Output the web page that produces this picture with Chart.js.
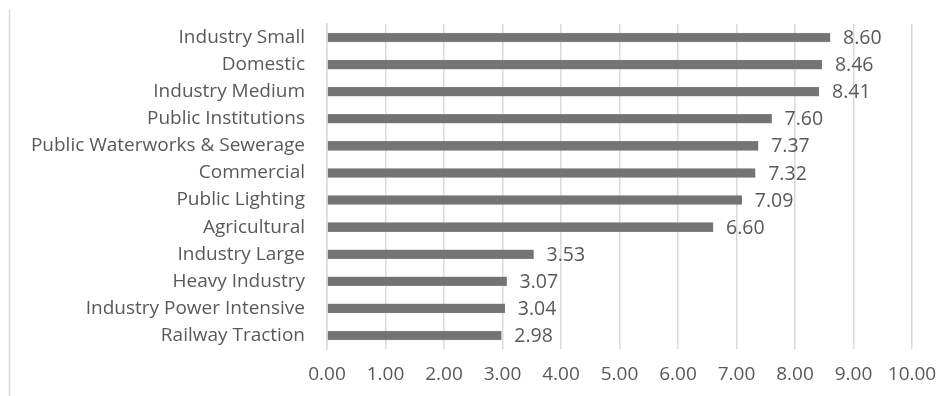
<!DOCTYPE html>
<html>
<head>
<meta charset="utf-8">
<script src="https://cdn.jsdelivr.net/npm/chart.js@4"></script>
<style>
  html, body { margin: 0; padding: 0; background: #fff; }
  #wrap { width: 952px; height: 396px; position: relative; }
</style>
</head>
<body>
<div id="wrap"><canvas id="c" width="952" height="396"></canvas></div>
<script>
const categories = [
  "Industry Small", "Domestic", "Industry Medium", "Public Institutions",
  "Public Waterworks & Sewerage", "Commercial", "Public Lighting", "Agricultural",
  "Industry Large", "Heavy Industry", "Industry Power Intensive", "Railway Traction"
];
const values = [8.60, 8.46, 8.41, 7.60, 7.37, 7.32, 7.09, 6.60, 3.53, 3.07, 3.04, 2.98];
const xTicks = [0, 1, 2, 3, 4, 5, 6, 7, 8, 9, 10];

const FONT = "'Open Sans', 'DejaVu Sans', sans-serif";
const TEXT = "#595959";

// value labels to the right of each bar, plus the thin frame line on the left
const valueLabels = {
  id: "valueLabels",
  afterDatasetsDraw(chart) {
    const ctx = chart.ctx;
    const meta = chart.getDatasetMeta(0);
    ctx.save();
    ctx.font = "19.5px " + FONT;
    ctx.fillStyle = TEXT;
    ctx.textAlign = "left";
    ctx.textBaseline = "middle";
    meta.data.forEach((bar, i) => {
      ctx.fillText(values[i].toFixed(2), bar.x + 13, bar.y + 1);
    });
    ctx.restore();
  },
  beforeDraw(chart) {
    const ctx = chart.ctx;
    ctx.save();
    ctx.strokeStyle = "#d9d9d9";
    ctx.lineWidth = 1.5;
    ctx.beginPath();
    ctx.moveTo(9.5, 10);
    ctx.lineTo(9.5, 396);
    ctx.stroke();
    ctx.restore();
  }
};

new Chart(document.getElementById("c"), {
  type: "bar",
  data: {
    labels: categories,
    datasets: [{
      data: values,
      backgroundColor: "#747474",
      borderColor: "#8a8a8a",
      borderWidth: 0.5,
      barThickness: 9
    }]
  },
  options: {
    indexAxis: "y",
    responsive: false,
    animation: false,
    layout: { padding: { top: 24, right: 40, left: 0, bottom: 0 } },
    plugins: { legend: { display: false }, tooltip: { enabled: false } },
    scales: {
      x: {
        min: 0, max: 10,
        afterBuildTicks(scale) { scale.ticks = xTicks.map(v => ({ value: v })); },
        grid: { color: "#d9d9d9", lineWidth: 1.5, drawTicks: false },
        border: { display: false },
        ticks: {
          padding: 14,
          color: TEXT,
          font: { family: FONT, size: 19 },
          maxRotation: 0,
          callback: v => Number(v).toFixed(2)
        },
        afterFit(scale) { scale.height = 47; scale.paddingLeft = 0; scale.paddingRight = 0; }
      },
      y: {
        grid: { display: false, drawTicks: false },
        border: { color: "#d9d9d9", width: 1.5 },
        ticks: {
          padding: 22,
          color: TEXT,
          font: { family: FONT, size: 19 },
          autoSkip: false
        },
        afterFit(scale) { scale.width = 327; scale.paddingTop = 0; scale.paddingBottom = 0; }
      }
    }
  },
  plugins: [valueLabels]
});
</script>
</body>
</html>
